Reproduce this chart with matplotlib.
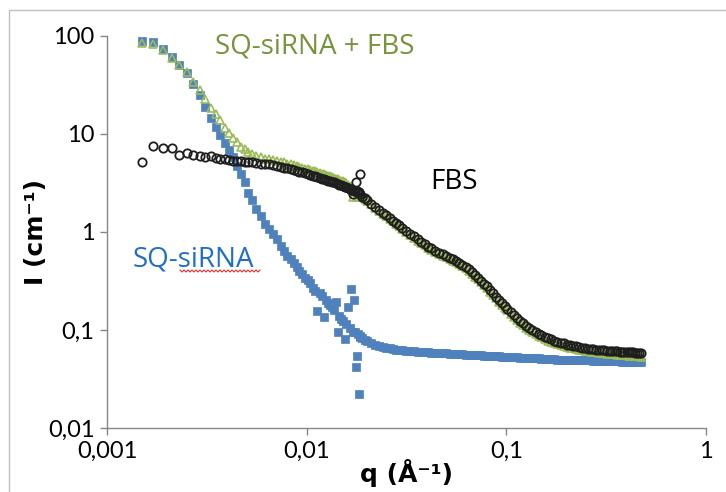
#   SAXS curves: SQ-siRNA, FBS and the mix, log-log plot with comma decimals
import numpy as np
import matplotlib
matplotlib.use('Agg')
from matplotlib import pyplot as plt
from matplotlib.lines import Line2D
from matplotlib.patches import Rectangle
from matplotlib.transforms import IdentityTransform

#   q grid of the low-q configuration (A^-1)
q_lo = [0.00150, 0.00170, 0.00191, 0.00211, 0.00230, 0.00252, 0.00270, 0.00292, 0.00310, 0.00330,
        0.00350, 0.00370, 0.00390, 0.00410, 0.00430, 0.00450, 0.00470, 0.00490, 0.00510, 0.00530,
        0.00560, 0.00590, 0.00620, 0.00650, 0.00680, 0.00710, 0.00740, 0.00770, 0.00800, 0.00830,
        0.00860, 0.00890, 0.00920, 0.00950, 0.00980, 0.01010, 0.01040, 0.01070, 0.01100, 0.01130,
        0.01160, 0.01190, 0.01220, 0.01250, 0.01280, 0.01310, 0.01340, 0.01370, 0.01400, 0.01430,
        0.01460, 0.01490, 0.01520, 0.01550, 0.01580, 0.01610, 0.01640, 0.01670, 0.01700, 0.01730,
        0.01760, 0.01790, 0.01820, 0.01850]

#   q grid of the high-q configuration
q_hi = [0.0175, 0.0180, 0.0185, 0.0190, 0.0195, 0.0200, 0.0210, 0.0220, 0.0230, 0.0240,
        0.0250, 0.0260, 0.0270, 0.0280, 0.0290, 0.0300, 0.0315, 0.0330, 0.0345, 0.0360,
        0.0375, 0.0390, 0.0405, 0.0420, 0.0440, 0.0460, 0.0480, 0.0500, 0.0520, 0.0540,
        0.0560, 0.0580, 0.0600, 0.0625, 0.0650, 0.0675, 0.0700, 0.0725, 0.0750, 0.0775,
        0.0800, 0.0830, 0.0860, 0.0890, 0.0920, 0.0950, 0.0980, 0.1010, 0.1050, 0.1090,
        0.1130, 0.1170, 0.1210, 0.1250, 0.1300, 0.1350, 0.1400, 0.1450, 0.1500, 0.1560,
        0.1620, 0.1680, 0.1740, 0.1800, 0.1870, 0.1940, 0.2010, 0.2080, 0.2150, 0.2230,
        0.2310, 0.2390, 0.2470, 0.2550, 0.2640, 0.2730, 0.2820, 0.2910, 0.3000, 0.3100,
        0.3200, 0.3300, 0.3400, 0.3500, 0.3600, 0.3700, 0.3800, 0.3900, 0.4000, 0.4100,
        0.4200, 0.4300, 0.4400, 0.4500, 0.4600, 0.4700]

#   SQ-siRNA (cm^-1)
sirna_lo = [88, 86, 74, 61, 51, 42, 32, 25, 19, 14.5,
            11.8, 9.8, 8.0, 6.8, 5.8, 4.7, 3.9, 3.2, 2.5, 2.1,
            1.7, 1.45, 1.22, 1.08, 0.96, 0.84, 0.72, 0.64, 0.57, 0.53,
            0.48, 0.44, 0.40, 0.37, 0.34, 0.32, 0.30, 0.27, 0.25, 0.155,
            0.24, 0.22, 0.136, 0.20, 0.19, 0.18, 0.172, 0.16, 0.193, 0.095,
            0.14, 0.13, 0.124, 0.08, 0.115, 0.17, 0.105, 0.26, 0.095, 0.20,
            0.042, 0.054, 0.022, 0.085]
sirna_hi = [0.095, 0.090, 0.086, 0.082, 0.079, 0.077, 0.074, 0.071, 0.069, 0.067,
            0.066, 0.065, 0.064, 0.063, 0.0625, 0.062, 0.0615, 0.061, 0.0605, 0.060,
            0.0597, 0.0594, 0.0591, 0.0588, 0.0585, 0.0582, 0.058, 0.0577, 0.0575, 0.0572,
            0.057, 0.0568, 0.0565, 0.0562, 0.056, 0.0557, 0.0555, 0.0553, 0.055, 0.0548,
            0.0546, 0.0544, 0.0542, 0.054, 0.0538, 0.0536, 0.0534, 0.0532, 0.053, 0.0528,
            0.0526, 0.0524, 0.0522, 0.052, 0.0518, 0.0516, 0.0514, 0.0512, 0.051, 0.0508,
            0.0506, 0.0504, 0.0502, 0.050, 0.0499, 0.0498, 0.0497, 0.0496, 0.0495, 0.0494,
            0.0493, 0.0492, 0.0491, 0.049, 0.0489, 0.0488, 0.0487, 0.0486, 0.0485, 0.0484,
            0.0483, 0.0482, 0.0481, 0.048, 0.0479, 0.0478, 0.0477, 0.0476, 0.0475, 0.0474,
            0.0473, 0.0472, 0.0471, 0.047, 0.0469, 0.0468]

#   SQ-siRNA + FBS
mix_lo = [84, 82, 72, 60, 51, 43, 34, 28, 23, 18.5,
          16, 13.9, 11.5, 10.2, 9.0, 8.2, 7.4, 7.0, 6.6, 6.3,
          6.0, 5.8, 5.6, 5.5, 5.4, 5.3, 5.2, 5.15, 5.0, 4.9,
          4.8, 4.7, 4.6, 4.5, 4.4, 4.35, 4.3, 4.2, 4.15, 4.1,
          4.0, 3.95, 3.9, 3.8, 3.75, 3.7, 3.6, 3.55, 3.5, 3.45,
          3.4, 3.35, 3.3, 3.2, 3.15, 3.05, 2.95, 2.85, 2.3, 2.75,
          2.6, 2.3, 2.5, 2.4]
mix_hi = [2.6, 2.5, 2.4, 2.28, 2.17, 2.07, 1.92, 1.77, 1.65, 1.54,
          1.45, 1.36, 1.28, 1.21, 1.14, 1.08, 1.00, 0.93, 0.87, 0.815,
          0.77, 0.73, 0.69, 0.66, 0.625, 0.595, 0.57, 0.55, 0.53, 0.51,
          0.49, 0.47, 0.45, 0.425, 0.40, 0.375, 0.35, 0.328, 0.306, 0.286,
          0.268, 0.246, 0.227, 0.210, 0.195, 0.181, 0.169, 0.159, 0.146, 0.136,
          0.127, 0.119, 0.112, 0.106, 0.100, 0.095, 0.090, 0.087, 0.084, 0.081,
          0.078, 0.076, 0.074, 0.072, 0.070, 0.069, 0.067, 0.066, 0.065, 0.064,
          0.063, 0.062, 0.061, 0.0605, 0.060, 0.0595, 0.059, 0.0585, 0.058, 0.0577,
          0.0574, 0.0571, 0.0568, 0.0565, 0.0562, 0.0559, 0.0556, 0.0553, 0.055, 0.0548,
          0.0546, 0.0544, 0.0542, 0.054, 0.0538, 0.0536]

#   FBS
fbs_lo = [5.2, 7.55, 7.2, 7.2, 6.1, 6.4, 6.1, 6.0, 5.8, 5.9,
          5.7, 5.6, 5.5, 5.45, 5.35, 5.3, 5.25, 5.2, 5.2, 5.15,
          5.1, 5.0, 4.95, 4.9, 4.8, 4.7, 4.6, 4.5, 4.45, 4.35,
          4.3, 4.2, 4.1, 4.05, 4.0, 3.95, 3.85, 3.75, 3.7, 3.64,
          3.55, 3.5, 3.45, 3.4, 3.35, 3.3, 3.25, 3.2, 3.15, 3.1,
          3.05, 3.0, 2.95, 2.9, 2.85, 2.8, 2.75, 2.7, 2.45, 2.65,
          3.2, 2.6, 2.55, 3.9]
fbs_hi = [2.65, 2.55, 2.45, 2.3, 2.2, 2.1, 1.95, 1.8, 1.68, 1.57,
          1.48, 1.39, 1.31, 1.24, 1.17, 1.11, 1.03, 0.96, 0.90, 0.84,
          0.79, 0.75, 0.71, 0.68, 0.645, 0.615, 0.59, 0.565, 0.545, 0.525,
          0.505, 0.485, 0.465, 0.44, 0.415, 0.39, 0.365, 0.34, 0.318, 0.297,
          0.278, 0.256, 0.236, 0.218, 0.202, 0.188, 0.176, 0.165, 0.152, 0.141,
          0.132, 0.124, 0.117, 0.111, 0.105, 0.099, 0.095, 0.091, 0.088, 0.085,
          0.082, 0.080, 0.078, 0.076, 0.074, 0.073, 0.071, 0.070, 0.069, 0.068,
          0.067, 0.066, 0.065, 0.0645, 0.064, 0.0635, 0.063, 0.0627, 0.0624, 0.062,
          0.0617, 0.0614, 0.0611, 0.0608, 0.0605, 0.0603, 0.060, 0.0598, 0.0596, 0.0594,
          0.0592, 0.059, 0.0588, 0.0586, 0.0584, 0.0582]

#   achsen
x_ticks = [0.001, 0.01, 0.1, 1]
x_ticklabels = ['0,001', '0,01', '0,1', '1']
y_ticks = [0.01, 0.1, 1, 10, 100]
y_ticklabels = ['0,01', '0,1', '1', '10', '100']

plt.rcParams['font.family'] = ['Lato', 'DejaVu Sans']

fig = plt.figure(figsize=(7.26, 4.92), dpi=100)
ax = fig.add_axes([107 / 726, 64 / 492, 599 / 726, 392 / 492])

blue = '#4F81BD'
green = '#9BBB59'

#   reihenfolge: blau unten, dann gruen, schwarz oben
for q, v in [(q_lo, sirna_lo), (q_hi, sirna_hi)]:
    ax.plot(q, v, ls='none', marker='s', ms=5.3, mfc=blue, mec=blue, mew=0.5)
for q, v in [(q_lo, mix_lo), (q_hi, mix_hi)]:
    ax.plot(q, v, ls='none', marker='^', ms=6.4, mfc='none', mec=green, mew=1.2)
for q, v in [(q_lo, fbs_lo), (q_hi, fbs_hi)]:
    ax.plot(q, v, ls='none', marker='o', ms=6.0, mfc='none', mec='#1E1E1E', mew=1.3)

ax.set_xscale('log')
ax.set_yscale('log')
ax.set_xlim(0.001, 1)
ax.set_ylim(0.01, 100)
ax.set_xticks(x_ticks)
ax.set_xticklabels(x_ticklabels)
ax.set_yticks(y_ticks)
ax.set_yticklabels(y_ticklabels)
ax.minorticks_off()
ax.tick_params(axis='both', direction='out', length=5, width=1, color='#868686',
               labelsize=17, labelcolor='black', pad=4)

for s in ['top', 'right']:
    ax.spines[s].set_visible(False)
for s in ['left', 'bottom']:
    ax.spines[s].set_color('#868686')
    ax.spines[s].set_linewidth(1)

#   achsentitel
fig.text(36 / 726, 1 - 232 / 492, 'I (cm⁻¹)', rotation=90, ha='center', va='center',
         fontsize=18, fontweight='bold', family=['DejaVu Sans'])
fig.text(407 / 726, 1 - 482 / 492, 'q (Å⁻¹)', ha='center', va='baseline',
         fontsize=18, fontweight='bold', family=['DejaVu Sans'])

#   beschriftung der kurven
lab_font = ['Open Sans', 'DejaVu Sans']
ax.text(0.00347, 67, 'SQ-siRNA + FBS', color='#77933C', fontsize=20,
        ha='left', va='baseline', family=lab_font)
ax.text(0.0414, 2.75, 'FBS', color='black', fontsize=20,
        ha='left', va='baseline', family=lab_font)
ax.text(0.00135, 0.44, 'SQ-siRNA', color='#1F6FC5', fontsize=20,
        ha='left', va='baseline', family=lab_font)

#   rote wellenlinie (rechtschreibpruefung) unter "siRNA"
wx = np.arange(180, 261, 2)
wy = 492 - 271 + np.where(np.arange(len(wx)) % 2 == 0, 1.0, -1.0)
fig.add_artist(Line2D(wx, wy, color='#E03030', lw=0.8, transform=IdentityTransform()))

#   grauer rahmen um die grafik
fig.add_artist(Rectangle((9 / 726, -0.05), 1.1, 1.05 - 10 / 492, transform=fig.transFigure,
                         fill=False, edgecolor='#BFBFBF', lw=1))

fig.savefig('out.png', dpi=100)
